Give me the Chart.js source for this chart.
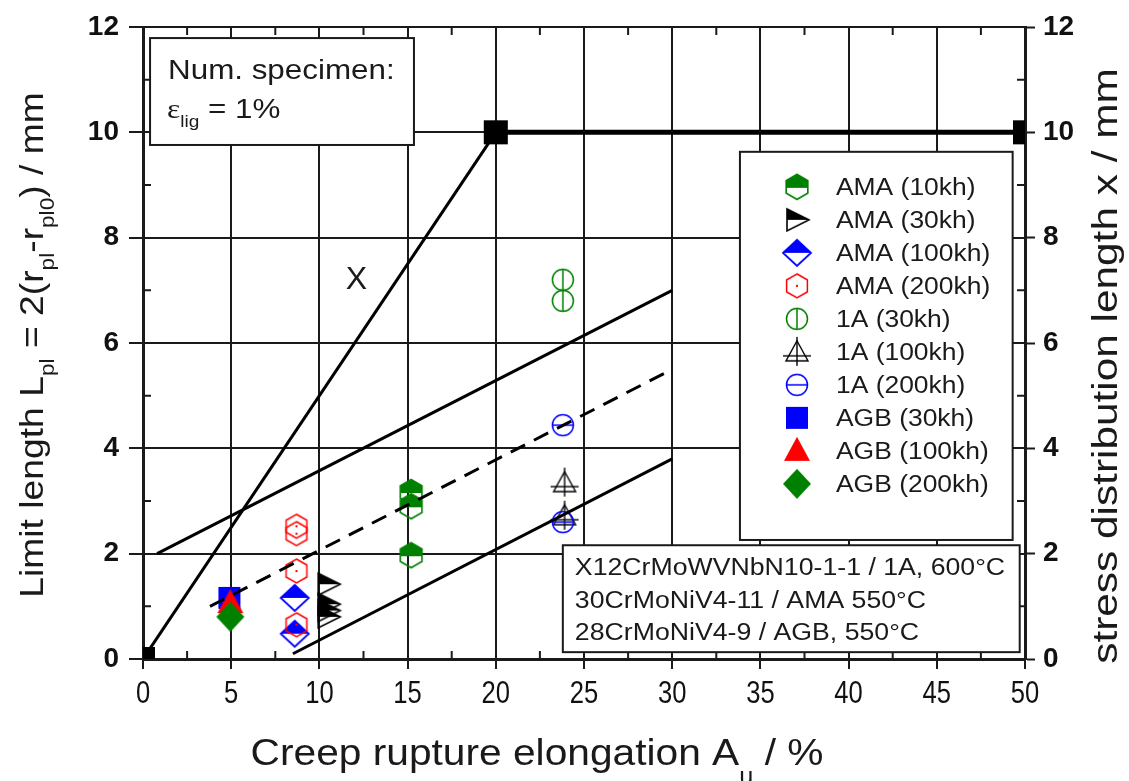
<!DOCTYPE html>
<html>
<head>
<meta charset="utf-8">
<script src="https://cdn.jsdelivr.net/npm/chart.js@4.4.1/dist/chart.umd.min.js"></script>
<style>
  html, body { margin: 0; padding: 0; background: #fff; }
  #wrap { width: 1129px; height: 781px; position: relative; }
</style>
</head>
<body>
<div id="wrap"><canvas id="chart" width="1129" height="781"></canvas></div>
<script>
// Axis ticks
const xTicks = [0, 5, 10, 15, 20, 25, 30, 35, 40, 45, 50];
const xMinorTicks = [2.5, 7.5, 12.5, 17.5, 22.5, 27.5, 32.5, 37.5, 42.5, 47.5];
const yTicks = [0, 2, 4, 6, 8, 10, 12];
const yMinorTicks = [1, 3, 5, 7, 9, 11];

// Measured specimens: creep rupture elongation (%) vs. limit length (mm)
const ama10kh_x = [15.2, 15.2, 15.2];
const ama10kh_y = [3.17, 2.9, 1.97];
const ama30kh_x = [10.5, 10.5, 10.5, 10.5];
const ama30kh_y = [1.42, 1.04, 0.92, 0.8];
const ama100kh_x = [8.6, 8.6];
const ama100kh_y = [1.16, 0.48];
const ama200kh_x = [8.7, 8.7, 8.7, 8.7];
const ama200kh_y = [2.52, 2.38, 1.67, 0.65];
const a1_30kh_x = [23.8, 23.8];
const a1_30kh_y = [7.2, 6.8];
const a1_100kh_x = [23.9, 23.9];
const a1_100kh_y = [3.35, 2.72];
const a1_200kh_x = [23.8, 23.8];
const a1_200kh_y = [4.44, 2.6];
const agb30kh_x = [4.9];
const agb30kh_y = [1.16];
const agb100kh_x = [4.95];
const agb100kh_y = [1.06];
const agb200kh_x = [4.95];
const agb200kh_y = [0.8];

// Stress distribution length x (numerical specimen) and scatter band
const xLine_x = [0, 20, 50];
const xLine_y = [0, 10, 10];
const bandUpper_x = [0.8, 30];
const bandUpper_y = [2.0, 7.0];
const bandMean_x = [3.8, 30];
const bandMean_y = [1.0, 5.5];
const bandLower_x = [8.5, 30];
const bandLower_y = [0.1, 3.8];

const GREEN = '#008000', BLUE = '#0000ff', RED = '#ff0000', BLACK = '#000000';
const INK = '#1a1a1a';
const SANS = "'Liberation Sans', Arial, sans-serif";

const pts = (xs, ys) => xs.map((x, i) => ({ x, y: ys[i] }));

// ---------- marker images ----------
function marker(size, draw) {
  const c = document.createElement('canvas');
  c.width = size; c.height = size;
  const g = c.getContext('2d');
  draw(g, size / 2, size / 2, size);
  return c;
}
function hexPath(g, cx, cy, r) {
  g.beginPath();
  for (let i = 0; i < 6; i++) {
    const a = -Math.PI / 2 + i * Math.PI / 3;
    g.lineTo(cx + r * Math.cos(a), cy + r * Math.sin(a));
  }
  g.closePath();
}
function fillTopHalf(g, size, cy, pathFn, color) {
  g.save();
  g.beginPath(); g.rect(0, 0, size, cy); g.clip();
  pathFn(); g.fillStyle = color; g.fill();
  g.restore();
}

const mkAma10 = marker(32, (g, cx, cy, s) => {
  fillTopHalf(g, s, cy + 1, () => hexPath(g, cx, cy, 12.5), GREEN);
  hexPath(g, cx, cy, 12.5); g.strokeStyle = GREEN; g.lineWidth = 1.6; g.stroke();
});
const mkAma30 = marker(32, (g, cx, cy, s) => {
  const tri = () => { g.beginPath(); g.moveTo(cx + 12, cy); g.lineTo(cx - 10, cy - 11); g.lineTo(cx - 10, cy + 11); g.closePath(); };
  fillTopHalf(g, s, cy, tri, BLACK);
  tri(); g.strokeStyle = BLACK; g.lineWidth = 1.6; g.stroke();
});
const mkAma100 = marker(34, (g, cx, cy, s) => {
  const dia = () => { g.beginPath(); g.moveTo(cx, cy - 13); g.lineTo(cx + 14, cy); g.lineTo(cx, cy + 13); g.lineTo(cx - 14, cy); g.closePath(); };
  fillTopHalf(g, s, cy, dia, BLUE);
  dia(); g.strokeStyle = BLUE; g.lineWidth = 1.8; g.stroke();
});
const mkAma200 = marker(32, (g, cx, cy) => {
  hexPath(g, cx, cy, 12); g.strokeStyle = RED; g.lineWidth = 1.5; g.stroke();
  g.fillStyle = RED; g.fillRect(cx - 1, cy - 1, 2, 2);
});
const mk1A30 = marker(28, (g, cx, cy) => {
  g.strokeStyle = GREEN; g.lineWidth = 1.5;
  g.beginPath(); g.arc(cx, cy, 10.5, 0, Math.PI * 2); g.stroke();
  g.beginPath(); g.moveTo(cx, cy - 10.5); g.lineTo(cx, cy + 10.5); g.stroke();
});
const mk1A100 = marker(34, (g, cx, cy) => {
  g.strokeStyle = BLACK; g.lineWidth = 1.4;
  g.beginPath(); g.moveTo(cx, cy - 11); g.lineTo(cx + 11, cy + 9); g.lineTo(cx - 11, cy + 9); g.closePath(); g.stroke();
  g.beginPath(); g.moveTo(cx, cy - 15); g.lineTo(cx, cy + 14); g.stroke();
  g.beginPath(); g.moveTo(cx - 14, cy + 4); g.lineTo(cx + 14, cy + 4); g.stroke();
});
const mk1A200 = marker(28, (g, cx, cy) => {
  g.strokeStyle = BLUE; g.lineWidth = 1.5;
  g.beginPath(); g.arc(cx, cy, 10.5, 0, Math.PI * 2); g.stroke();
  g.beginPath(); g.moveTo(cx - 10.5, cy); g.lineTo(cx + 10.5, cy); g.stroke();
});
const mkAgb30 = marker(24, (g) => { g.fillStyle = BLUE; g.fillRect(1, 1, 22, 22); });
const mkAgb100 = marker(30, (g, cx, cy) => {
  g.fillStyle = RED; g.beginPath(); g.moveTo(cx, cy - 14); g.lineTo(cx + 13, cy + 10); g.lineTo(cx - 13, cy + 10); g.closePath(); g.fill();
});
const mkAgb200 = marker(32, (g, cx, cy) => {
  g.fillStyle = GREEN; g.beginPath(); g.moveTo(cx, cy - 15); g.lineTo(cx + 14, cy); g.lineTo(cx, cy + 15); g.lineTo(cx - 14, cy); g.closePath(); g.fill();
});

function scatterSet(label, xs, ys, style, order) {
  return { type: 'scatter', label, data: pts(xs, ys), pointStyle: style, pointRadius: 12, pointHoverRadius: 12, order, inLegend: true };
}
function lineSet(label, xs, ys, extra) {
  return Object.assign({ type: 'line', label, data: pts(xs, ys), borderColor: BLACK, borderWidth: 3, pointRadius: 0, fill: false, tension: 0, order: 0 }, extra);
}

const datasets = [
  lineSet('x', xLine_x, xLine_y, {
    pointStyle: 'rect', pointRadius: 17, pointBackgroundColor: BLACK, pointBorderWidth: 0,
    segment: { borderWidth: c => (c.p0DataIndex >= 1 ? 5 : 3) }
  }),
  lineSet('upper', bandUpper_x, bandUpper_y, {}),
  lineSet('mean', bandMean_x, bandMean_y, { borderDash: [16, 10] }),
  lineSet('lower', bandLower_x, bandLower_y, {}),
  scatterSet('AMA (10kh)', ama10kh_x, ama10kh_y, mkAma10, 8),
  scatterSet('AMA (30kh)', ama30kh_x, ama30kh_y, mkAma30, 8),
  scatterSet('AMA (100kh)', ama100kh_x, ama100kh_y, mkAma100, 9),
  scatterSet('AMA (200kh)', ama200kh_x, ama200kh_y, mkAma200, 7),
  scatterSet('1A (30kh)', a1_30kh_x, a1_30kh_y, mk1A30, 8),
  scatterSet('1A (100kh)', a1_100kh_x, a1_100kh_y, mk1A100, 8),
  scatterSet('1A (200kh)', a1_200kh_x, a1_200kh_y, mk1A200, 6),
  scatterSet('AGB (30kh)', agb30kh_x, agb30kh_y, mkAgb30, 5),
  scatterSet('AGB (100kh)', agb100kh_x, agb100kh_y, mkAgb100, 4),
  scatterSet('AGB (200kh)', agb200kh_x, agb200kh_y, mkAgb200, 3)
];

// ---------- text helper with subscripts and horizontal stretch ----------
function richText(ctx, parts, x, y, size, o) {
  o = o || {};
  const stretch = o.stretch || 1;
  const fam = o.family || SANS;
  const weight = o.bold ? 'bold ' : '';
  const drop = o.subDrop || 0.32;
  const fontOf = p => weight + Math.round(p.sub ? size * 0.62 : size) + 'px ' + (p.family || fam);
  ctx.save();
  ctx.translate(x, y);
  if (o.rotate) ctx.rotate(o.rotate);
  ctx.scale(stretch, 1);
  ctx.textBaseline = 'alphabetic';
  ctx.textAlign = 'left';
  ctx.fillStyle = o.color || INK;
  let total = 0;
  parts.forEach(p => { ctx.font = fontOf(p); total += ctx.measureText(p.t).width; });
  let cx = o.align === 'center' ? -total / 2 : 0;
  parts.forEach(p => {
    ctx.font = fontOf(p);
    ctx.fillText(p.t, cx, p.sub ? size * drop : 0);
    cx += ctx.measureText(p.t).width;
  });
  ctx.restore();
}

function boxAt(ctx, sx, sy, x0, y0, x1, y1) {
  const l = sx.getPixelForValue(x0), r = sx.getPixelForValue(x1);
  const t = sy.getPixelForValue(y0), b = sy.getPixelForValue(y1);
  ctx.save();
  ctx.fillStyle = '#fff';
  ctx.fillRect(l, t, r - l, b - t);
  ctx.strokeStyle = INK; ctx.lineWidth = 2;
  ctx.strokeRect(l, t, r - l, b - t);
  ctx.restore();
  return { l, t, r, b };
}

// inward minor ticks on all four sides
const minorTicks = {
  id: 'minorTicks',
  beforeDatasetsDraw(chart) {
    const { ctx, chartArea: a, scales } = chart;
    ctx.save();
    ctx.strokeStyle = INK; ctx.lineWidth = 2;
    ctx.beginPath();
    xMinorTicks.forEach(v => {
      const px = scales.x.getPixelForValue(v);
      ctx.moveTo(px, a.bottom); ctx.lineTo(px, a.bottom - 8);
      ctx.moveTo(px, a.top); ctx.lineTo(px, a.top + 8);
    });
    yMinorTicks.forEach(v => {
      const py = scales.y.getPixelForValue(v);
      ctx.moveTo(a.left, py); ctx.lineTo(a.left + 8, py);
      ctx.moveTo(a.right, py); ctx.lineTo(a.right - 8, py);
    });
    ctx.stroke();
    ctx.restore();
  }
};

// annotation boxes, legend, condensed x tick labels and axis titles
const overlay = {
  id: 'overlay',
  afterDatasetsDraw(chart) {
    const { ctx, scales } = chart;
    const sx = scales.x, sy = scales.y;

    // curve label
    richText(ctx, [{ t: 'X' }], sx.getPixelForValue(12.1), sy.getPixelForValue(7.25) + 12, 32, { align: 'center' });

    // numerical specimen box
    const b1 = boxAt(ctx, sx, sy, 0.4, 11.79, 15.36, 9.76);
    richText(ctx, [{ t: 'Num. specimen:' }], b1.l + 18, b1.t + 41, 28, { stretch: 1.12 });
    richText(ctx, [{ t: 'ε', family: "'Liberation Serif', serif" }, { t: 'lig', sub: true }, { t: ' = 1%' }], b1.l + 17, b1.t + 80, 28, { stretch: 1.12 });

    // legend
    const lg = boxAt(ctx, sx, sy, 33.84, 9.63, 49.3, 2.26);
    let row = 0;
    chart.data.datasets.forEach(ds => {
      if (!ds.inLegend) return;
      const cy = lg.t + 35 + row * 33;
      const img = ds.pointStyle;
      ctx.drawImage(img, lg.l + 57 - img.width / 2, cy - img.height / 2);
      richText(ctx, [{ t: ds.label }], lg.l + 96, cy + 8, 23, { stretch: 1.15 });
      row++;
    });

    // materials box
    const b2 = boxAt(ctx, sx, sy, 23.8, 2.16, 49.7, 0.13);
    const mat = ['X12CrMoWVNbN10-1-1 / 1A, 600°C', '30CrMoNiV4-11 / AMA 550°C', '28CrMoNiV4-9 / AGB, 550°C'];
    mat.forEach((t, i) => richText(ctx, [{ t }], b2.l + 12, b2.t + 30 + i * 32.5, 23, { stretch: 1.16 }));
  },
  afterDraw(chart) {
    const { ctx, scales } = chart;
    // condensed x tick labels at the scale's tick positions
    scales.x.ticks.forEach(t => {
      richText(ctx, [{ t: String(t.value) }], scales.x.getPixelForValue(t.value), 703, 32, { align: 'center', stretch: 0.8, color: '#111' });
    });
    // x axis title
    richText(ctx, [{ t: 'Creep rupture elongation A' }, { t: 'u', sub: true }, { t: ' / %' }],
      537, 765, 37, { align: 'center', stretch: 1.1, subDrop: 0.5 });
    // left axis title
    richText(ctx, [{ t: 'Limit length L' }, { t: 'pl', sub: true }, { t: ' = 2(r' }, { t: 'pl', sub: true },
      { t: '-r' }, { t: 'pl0', sub: true }, { t: ') / mm' }],
      43, 345, 33, { align: 'center', rotate: -Math.PI / 2, stretch: 1.13 });
    // right axis title
    richText(ctx, [{ t: 'stress distribution length x / mm' }],
      1117, 366, 35, { align: 'center', rotate: -Math.PI / 2, stretch: 1.21 });
  }
};

const tickFontY = { family: SANS, size: 28, weight: 'bold' };

new Chart(document.getElementById('chart'), {
  data: { datasets },
  plugins: [minorTicks, overlay],
  options: {
    responsive: false,
    animation: false,
    events: [],
    layout: { padding: { top: 27, left: 0, right: 0, bottom: 0 } },
    plugins: { legend: { display: false }, tooltip: { enabled: false } },
    scales: {
      x: {
        type: 'linear', position: 'bottom', min: 0, max: 50,
        afterBuildTicks: s => { s.ticks = xTicks.map(v => ({ value: v })); },
        ticks: { autoSkip: false, maxRotation: 0, padding: 6, callback: () => '' },
        grid: { color: INK, lineWidth: 2, tickLength: 10, tickColor: INK, tickWidth: 2 },
        border: { color: INK, width: 3 },
        afterFit: s => { s.height = 122; }
      },
      y: {
        type: 'linear', position: 'left', min: 0, max: 12,
        afterBuildTicks: s => { s.ticks = yTicks.map(v => ({ value: v })); },
        ticks: { autoSkip: false, padding: 10, color: '#111', font: tickFontY },
        grid: { color: INK, lineWidth: 2, tickLength: 14, tickColor: INK, tickWidth: 2 },
        border: { color: INK, width: 3 },
        afterFit: s => { s.width = 143; }
      },
      y2: {
        type: 'linear', position: 'right', min: 0, max: 12,
        afterBuildTicks: s => { s.ticks = yTicks.map(v => ({ value: v })); },
        ticks: { autoSkip: false, padding: 8, color: '#111', font: tickFontY },
        grid: { drawOnChartArea: false, tickLength: 10, tickColor: INK, tickWidth: 2 },
        border: { color: INK, width: 3 },
        afterFit: s => { s.width = 104; }
      }
    }
  }
});
</script>
</body>
</html>
